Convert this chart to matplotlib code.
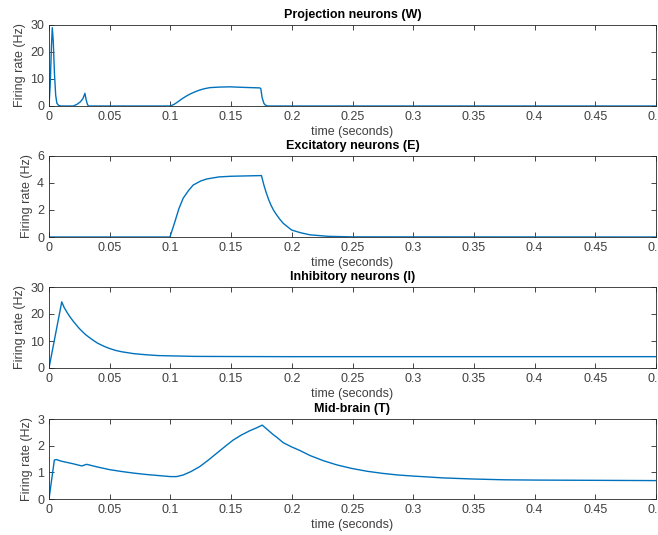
import matplotlib
matplotlib.use('Agg')
import matplotlib.pyplot as plt

plt.rcParams['font.family'] = ['Liberation Sans', 'DejaVu Sans']

# Projection neurons (W)
w_t = [0, 0.001, 0.002, 0.0027, 0.0035, 0.0045, 0.0055, 0.0065, 0.008, 0.01,
       0.02, 0.023, 0.026, 0.028, 0.0296, 0.0305, 0.0315, 0.0324, 0.04,
       0.1, 0.103, 0.106, 0.11, 0.114, 0.117, 0.12, 0.124, 0.128, 0.1325,
       0.14, 0.149, 0.16, 0.1737, 0.1745, 0.1755, 0.177, 0.178, 0.18, 0.5]
w_r = [0, 8, 22, 29, 24, 12, 4, 1, 0.2, 0,
       0, 0.6, 1.6, 2.8, 4.7, 2.5, 0.8, 0, 0,
       0, 0.6, 1.5, 2.8, 3.9, 4.6, 5.2, 5.9, 6.4, 6.8,
       7.0, 7.1, 6.9, 6.7, 6.4, 3.2, 1.0, 0.4, 0, 0]

# Excitatory neurons (E)
e_t = [0, 0.0995, 0.1, 0.1037, 0.107, 0.1105, 0.115, 0.1188, 0.125, 0.13,
       0.14, 0.15, 0.16, 0.175, 0.177, 0.179, 0.181, 0.183, 0.185, 0.187,
       0.19, 0.193, 0.1998, 0.207, 0.215, 0.23, 0.25, 0.5]
e_r = [0, 0, 0.1, 1.13, 2.1, 2.87, 3.45, 3.85, 4.15, 4.3,
       4.45, 4.5, 4.52, 4.55, 3.85, 3.26, 2.75, 2.33, 1.98, 1.7,
       1.33, 1.01, 0.52, 0.32, 0.16, 0.05, 0.01, 0]

# Inhibitory neurons (I)
i_t = [0, 0.0105, 0.0125, 0.015, 0.0175, 0.02, 0.025, 0.03, 0.035, 0.04,
       0.045, 0.05, 0.055, 0.06, 0.07, 0.08, 0.09, 0.1, 0.12, 0.15, 0.2,
       0.3, 0.5]
i_r = [0, 24.5, 22.4, 20.5, 18.8, 17.3, 14.6, 12.4, 10.7, 9.2,
       8.1, 7.2, 6.5, 6.0, 5.3, 4.9, 4.6, 4.5, 4.3, 4.25, 4.2,
       4.2, 4.2]

# Mid-brain (T)
t_t = [0, 0.0044, 0.006, 0.01, 0.02, 0.027, 0.031, 0.04, 0.05, 0.06, 0.07,
       0.08, 0.09, 0.1, 0.105, 0.1105, 0.117, 0.124, 0.131, 0.138, 0.145,
       0.1517, 0.1585, 0.1654, 0.1706, 0.1756, 0.18, 0.184, 0.188, 0.193,
       0.2, 0.2066, 0.215, 0.2258, 0.237, 0.249, 0.262, 0.275, 0.2875,
       0.3, 0.325, 0.349, 0.375, 0.4, 0.45, 0.5]
t_r = [0, 1.46, 1.48, 1.42, 1.32, 1.24, 1.3, 1.2, 1.1, 1.03, 0.97,
       0.92, 0.88, 0.84, 0.84, 0.9, 1.03, 1.21, 1.45, 1.71, 1.97,
       2.21, 2.4, 2.56, 2.66, 2.77, 2.6, 2.44, 2.3, 2.11,
       1.95, 1.82, 1.63, 1.44, 1.28, 1.15, 1.04, 0.96, 0.9,
       0.86, 0.79, 0.75, 0.72, 0.71, 0.7, 0.69]

x_ticks = [0, 0.05, 0.1, 0.15, 0.2, 0.25, 0.3, 0.35, 0.4, 0.45, 0.5]
x_labels = ['0', '0.05', '0.1', '0.15', '0.2', '0.25', '0.3', '0.35', '0.4', '0.45', '0.5']

panels = [
    ('Projection neurons (W)', w_t, w_r, [0, 10, 20, 30], 30),
    ('Excitatory neurons (E)', e_t, e_r, [0, 2, 4, 6], 6),
    ('Inhibitory neurons (I)', i_t, i_r, [0, 10, 20, 30], 30),
    ('Mid-brain (T)', t_t, t_r, [0, 1, 2, 3], 3),
]

W, H = 658, 535
fig = plt.figure(figsize=(W / 100, H / 100), dpi=100)
fig.patch.set_facecolor('white')

# pixel boxes: (top, bottom)
boxes = [(25, 106), (156, 237), (287, 368), (419, 499)]
left, right = 49, 656
dark = '#262626'
grey = '#404040'

for (title, xs, ys, yt, ymax), (top, bot) in zip(panels, boxes):
    ax = fig.add_axes([left / W, 1 - bot / H, (right - left) / W, (bot - top) / H])
    ax.plot(xs, ys, color='#0072BD', linewidth=1.0)
    ax.set_xlim(0, 0.5)
    ax.set_ylim(0, ymax)
    ax.set_xticks(x_ticks)
    ax.set_xticklabels(x_labels)
    ax.set_yticks(yt)
    ax.tick_params(direction='in', length=3.5, width=0.6, top=True, right=True,
                   labelsize=9, colors=dark, labelcolor=grey, pad=3.5)
    for s in ax.spines.values():
        s.set_linewidth(0.6)
        s.set_color(dark)
    ax.set_title(title, fontsize=9, fontweight='bold', color='black', pad=5)
    ax.set_xlabel('time (seconds)', fontsize=9, color=grey, labelpad=2)
    ax.set_ylabel('Firing rate (Hz)', fontsize=9, color=grey, labelpad=3)

fig.savefig('out.png', dpi=100)
